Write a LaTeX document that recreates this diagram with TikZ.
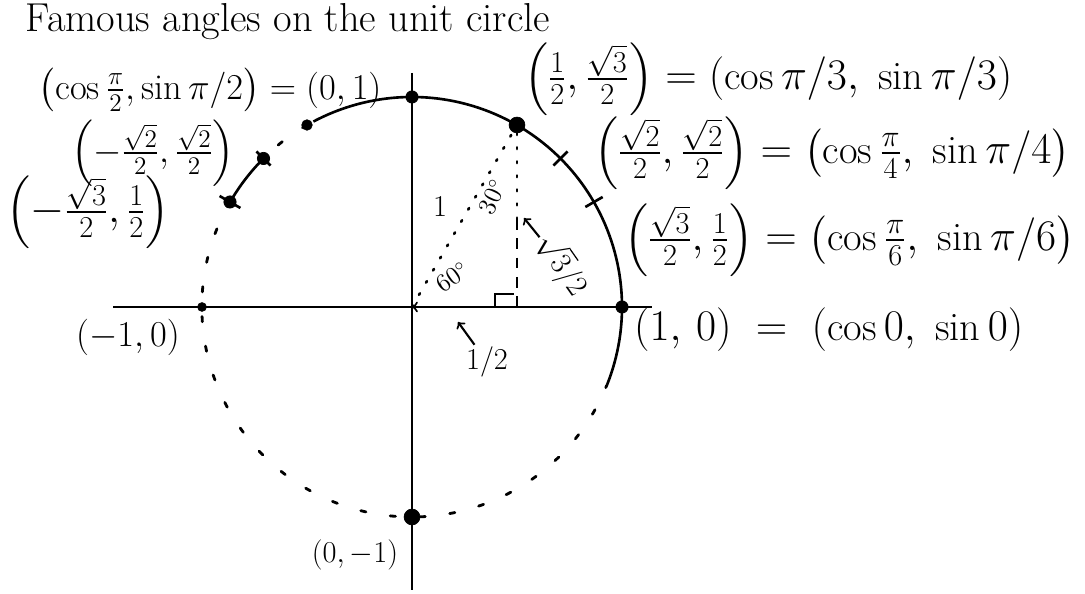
\documentclass[tikz,border=0pt]{standalone}
\usepackage{amsmath, amssymb, fontspec}

\begin{document}
\begin{tikzpicture}[x=0.02cm, y=0.02cm]
\tikzstyle{pt}=[circle, draw, fill=black, inner sep=0pt, minimum width=7pt]
\tikzstyle{lbl}=[inner sep=1pt, font=\huge]
\tikzstyle{big}=[inner sep=1pt, font=\fontsize{23}{27}\selectfont]
\tikzstyle{crc}=[line width=1.5pt]
\tikzstyle{dts}=[line width=1.6pt, line cap=round, dash pattern=on 3pt off 14pt]
\useasboundingbox (0,0) rectangle (1085,594);
	% axes and points on the circle
	\coordinate (O) at (412,287);
	\coordinate (xl) at (113,287);
	\coordinate (xr) at (652,287);
	\coordinate (yt) at (412,521);
	\coordinate (yb) at (412,4);
	\node[pt] (P0) at (622,287){};
	\node[pt] (P90) at (412,497){};
	\node[pt, minimum width=5pt] (P180) at (202,287){};
	\node[pt, minimum width=9pt] (P270) at (412,77){};
	\node[pt, minimum width=9pt] (P60) at (517,469){};
	\node[pt, minimum width=6pt] (P120) at (307,469){};
	\node[pt] (P135) at (263.5,435.5){};
	\node[pt] (P150) at (230,392){};
	\coordinate (P45) at (560.5,435.5);
	\coordinate (P30) at (594,392);
	\coordinate (F) at (517,287);
	\coordinate (M) at (517,375);
\draw[crc] (xl)--(xr);
\draw[crc] (yt)--(yb);
\draw[crc] (P90.center) arc (90:-22:210);
\draw[crc] (P90.center) arc (90:118:210);
\draw[dts] (P120.center) arc (120:135:210);
\draw[crc] (P135.center) arc (135:150:210);
\draw[dts] (P150.center) arc (150:338:210);
	% ticks
\draw[crc] (P45) ++(45:-10) -- ++(45:20);
\draw[crc] (P30) ++(30:-10) -- ++(30:20);
\draw[crc] (P135) ++(135:-10) -- ++(135:20);
\draw[crc] (P150) ++(150:-12) -- ++(150:24);
	% triangle
\draw[line width=1.5pt, line cap=round, dash pattern=on 1pt off 7pt] (O)--(P60);
\draw[line width=1.5pt, line cap=round, dash pattern=on 1pt off 7pt] (P60)--(M);
\draw[line width=1.5pt, dash pattern=on 6pt off 5pt] (M)--(F);
\draw[line width=1.2pt] (F) ++(-22,0) -- ++(0,13) -- ++(19,0);
\draw[->, line width=1.2pt] (440,287) -- (O);
	% labels
	\node[big] (title) at (288,572){Famous angles on the unit circle};
	\node[lbl] (L90) at (210,504){$\left(\cos\frac{\pi}{2},\sin\pi/2\right)=(0,1)$};
	\node[lbl, font=\fontsize{21}{25}\selectfont] (L135) at (153,441){$\left(-\frac{\sqrt{2}}{2},\frac{\sqrt{2}}{2}\right)$};
	\node[big] (L150) at (88,382){$\left(-\frac{\sqrt{3}}{2},\frac{1}{2}\right)$};
	\node[big, anchor=west] (L60) at (522,515){$\left(\frac{1}{2},\frac{\sqrt{3}}{2}\right)=\left(\cos\pi/3,\;\sin\pi/3\right)$};
	\node[big, anchor=west] (L45) at (592,441){$\left(\frac{\sqrt{2}}{2},\frac{\sqrt{2}}{2}\right)=\left(\cos\frac{\pi}{4},\;\sin\pi/4\right)$};
	\node[big, anchor=west] (L30) at (622,354){$\left(\frac{\sqrt{3}}{2},\frac{1}{2}\right)=\left(\cos\frac{\pi}{6},\;\sin\pi/6\right)$};
	\node[big, anchor=west] (L0) at (632,264){$(1,\,0)\;=\;(\cos 0,\;\sin 0)$};
	\node[lbl] (L180) at (128,257){$(-1,0)$};
	\node[lbl, font=\LARGE] (L270) at (355,39){$(0,-1)$};
	\node[lbl, font=\LARGE] (one) at (440,387){$1$};
	\node[lbl, font=\Large, rotate=65] (a30) at (492,397){$30^\circ$};
	\node[lbl, font=\Large, rotate=35] (a60) at (452,317){$60^\circ$};
	\node[lbl, font=\LARGE, rotate=-55] (lr) at (562,329){$\sqrt{3}/2$};
	\node[lbl, font=\LARGE] (lh) at (487,232){$1/2$};
	\coordinate (h1) at (524,376);
	\coordinate (h2) at (458,272);
\draw[->, line width=1.2pt] (lr)--(h1);
\draw[->, line width=1.2pt] (lh)--(h2);
\end{tikzpicture}
\end{document}
